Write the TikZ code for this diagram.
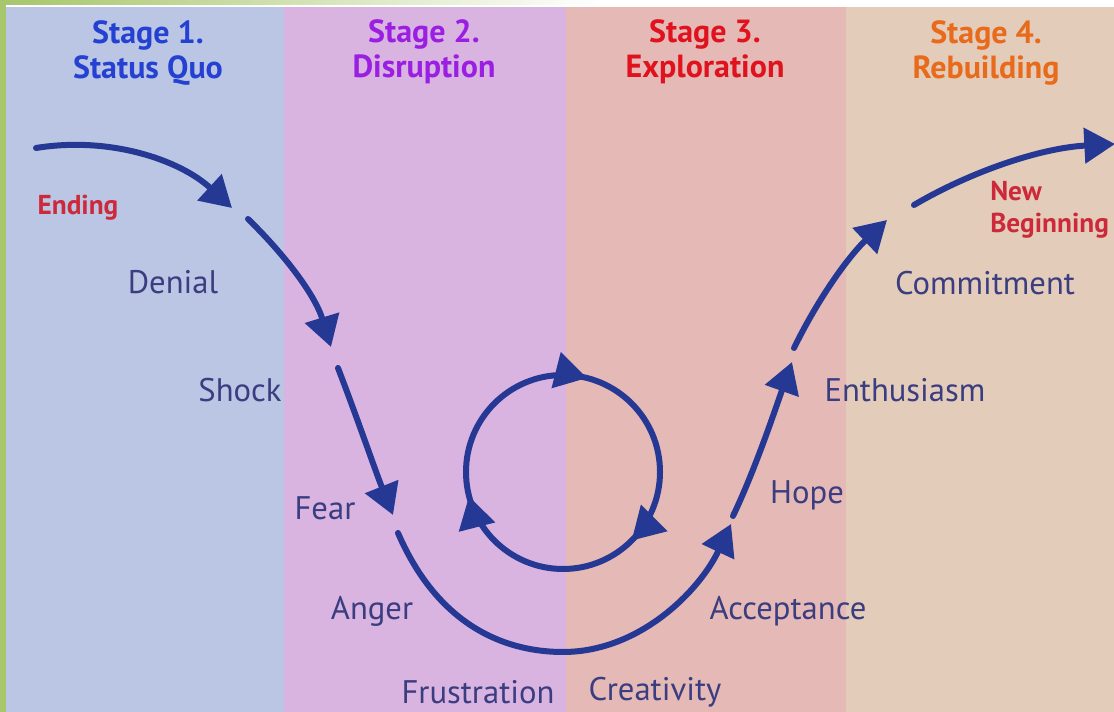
\documentclass[tikz,border=0pt]{standalone}
\usepackage{fontspec}
\setmainfont{PT Sans}
\usetikzlibrary{arrows.meta,decorations.markings}
\definecolor{gbar}{HTML}{A8C66B}
\definecolor{bandA}{HTML}{BAC6E4}
\definecolor{bandB}{HTML}{D9B4E1}
\definecolor{bandC}{HTML}{E4B9B6}
\definecolor{bandD}{HTML}{E4CCBA}
\definecolor{arrc}{HTML}{253894}
\definecolor{labc}{HTML}{3A3D80}
\definecolor{stA}{HTML}{2441D2}
\definecolor{stB}{HTML}{9A1FE2}
\definecolor{stC}{HTML}{E0121E}
\definecolor{stD}{HTML}{E86B1C}
\definecolor{redl}{HTML}{CC2A3A}
\tikzset{
  lbl/.style={text=labc, font=\fontsize{24.5}{28}\selectfont, inner sep=0pt},
  stg/.style={font=\bfseries\fontsize{24}{26.5}\selectfont, align=center, inner sep=0pt},
  redlbl/.style={text=redl, font=\bfseries\fontsize{20.5}{24}\selectfont, inner sep=0pt},
  flow/.style={draw=arrc, line width=4.5pt, line cap=round, -{Triangle[length=23pt,width=26pt]}},
  ring/.style={draw=arrc, line width=4.5pt, postaction={decorate},
    decoration={markings,
      mark=at position 0.125 with {\arrow{Triangle[length=24pt,width=27pt]}},
      mark=at position 0.46 with {\arrow{Triangle[length=24pt,width=27pt]}},
      mark=at position 0.79 with {\arrow{Triangle[length=24pt,width=27pt]}}}}
}
\begin{document}
\begin{tikzpicture}[x=0.75pt,y=-0.75pt]
\useasboundingbox (0,0) rectangle (1114,712);
\fill[white] (0,0) rectangle (1114,712);
\fill[gbar] (0,0) rectangle (6,712);
\shade[left color=gbar,right color=white] (6,0) rectangle (600,5);
\fill[bandA] (6,7) rectangle (284,712);
\fill[bandB] (284,7) rectangle (566,712);
\fill[bandC] (566,7) rectangle (846,712);
\fill[bandD] (846,7) rectangle (1114,712);

% stage headings
\node[stg, text=stA] (s1) at (148,53) {Stage 1.\\Status Quo};
\node[stg, text=stB] (s2) at (424,52) {Stage 2.\\Disruption};
\node[stg, text=stC] (s3) at (705,52) {Stage 3.\\Exploration};
\node[stg, text=stD] (s4) at (986,53) {Stage 4.\\Rebuilding};

% labels
\node[redlbl] (ending) at (78,208) {Ending};
\node[redlbl, anchor=west, align=left] (newb) at (990,210) {New\\Beginning};
\node[lbl] (denial) at (173,282) {Denial};
\node[lbl] (shock) at (240,390) {Shock};
\node[lbl] (fear) at (325,508) {Fear};
\node[lbl] (anger) at (372,611) {Anger};
\node[lbl] (frus) at (478,692) {Frustration};
\node[lbl] (crea) at (655,692) {Creativity};
\node[lbl] (acc) at (788,611) {Acceptance};
\node[lbl] (hope) at (807,495) {Hope};
\node[lbl] (enth) at (905,390) {Enthusiasm};
\node[lbl] (comm) at (985,283) {Commitment};

% path coordinates
\coordinate (a0) at (36,148);
\coordinate (a1) at (232,208);
\coordinate (b0) at (248,219);
\coordinate (b1) at (331,347);
\coordinate (c0) at (338,368);
\coordinate (c1) at (393,515);
\coordinate (d0) at (398,533);
\coordinate (dm) at (563,652);
\coordinate (d1) at (731,524);
\coordinate (e0) at (733,516);
\coordinate (e1) at (792,362);
\coordinate (f0) at (794,348);
\coordinate (f1) at (887,220);
\coordinate (g0) at (914,205);
\coordinate (g1) at (1115,144);
\coordinate (ctr) at (563,472);

\draw[flow] (a0) .. controls (110,136) and (180,160) .. (a1);
\draw[flow] (b0) .. controls (285,255) and (315,295) .. (b1);
\draw[flow] (c0) .. controls (358,420) and (375,470) .. (c1);
\draw[flow] (d0) .. controls (440,630) and (510,652) .. (dm)
               .. controls (640,652) and (700,590) .. (d1);
\draw[flow] (e0) .. controls (755,470) and (775,410) .. (e1);
\draw[flow] (f0) .. controls (820,295) and (850,255) .. (f1);
\draw[flow] (g0) .. controls (970,172) and (1040,148) .. (g1);

\path[ring] (ctr) circle (97);
\end{tikzpicture}
\end{document}
